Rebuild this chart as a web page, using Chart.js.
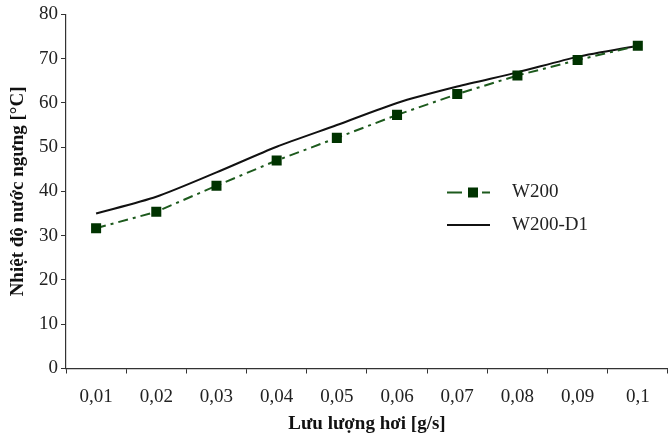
<!DOCTYPE html>
<html>
<head>
<meta charset="utf-8">
<script src="https://cdn.jsdelivr.net/npm/chart.js@4/dist/chart.umd.min.js"></script>
<style>
  html, body { margin: 0; padding: 0; background: #fff; overflow: hidden; }
  #wrap { width: 675px; height: 439px; }
</style>
</head>
<body>
<div id="wrap"><canvas id="tempChart"></canvas></div>
<script>
const flowLabels = ['0,01', '0,02', '0,03', '0,04', '0,05', '0,06', '0,07', '0,08', '0,09', '0,1'];
const w200 = [31.7, 35.4, 41.3, 47.0, 52.1, 57.3, 62.0, 66.2, 69.7, 72.9];
const w200d1 = [35.0, 38.8, 44.3, 50.1, 55.0, 60.0, 63.7, 66.9, 70.4, 72.9];
const yTicks = [0, 10, 20, 30, 40, 50, 60, 70, 80];

const serif = "'Liberation Serif', 'Times New Roman', serif";
const green = '#1d5a1d';
const marker = '#003300';

// legend drawn inside the plot, to the right of the curves
const insideLegend = {
    id: 'insideLegend',
    afterDraw(chart, args, opts) {
        const ctx = chart.ctx;
        ctx.save();
        ctx.font = '19px ' + serif;
        ctx.fillStyle = '#222';
        ctx.textBaseline = 'middle';

        // W200: dash-dot sample with square marker
        let y = opts.y1;
        ctx.strokeStyle = green;
        ctx.lineWidth = 2;
        ctx.beginPath();
        ctx.moveTo(opts.x, y); ctx.lineTo(opts.x + 15, y);
        ctx.moveTo(opts.x + 35, y); ctx.lineTo(opts.x + 43, y);
        ctx.stroke();
        ctx.fillStyle = marker;
        ctx.fillRect(opts.x + 21, y - 5, 10, 10);
        ctx.fillStyle = '#222';
        ctx.fillText(chart.data.datasets[0].label, opts.textX, y);

        // W200-D1: plain black line
        y = opts.y2;
        ctx.strokeStyle = '#111';
        ctx.beginPath();
        ctx.moveTo(opts.x, y); ctx.lineTo(opts.x + 43, y);
        ctx.stroke();
        ctx.fillText(chart.data.datasets[1].label, opts.textX, y);
        ctx.restore();
    }
};

new Chart(document.getElementById('tempChart'), {
    type: 'line',
    data: {
        labels: flowLabels,
        datasets: [{
            label: 'W200',
            data: w200,
            borderColor: green,
            borderWidth: 2,
            borderDash: [10, 5, 3, 5],
            pointStyle: 'rect',
            pointRadius: 7.1,
            pointBackgroundColor: marker,
            pointBorderColor: marker,
            pointBorderWidth: 0,
            tension: 0
        }, {
            label: 'W200-D1',
            data: w200d1,
            borderColor: '#111',
            borderWidth: 2,
            pointRadius: 0,
            tension: 0.25
        }]
    },
    options: {
        responsive: true,
        maintainAspectRatio: false,
        animation: false,
        layout: { padding: { top: 12, right: 2, left: 0, bottom: 0 } },
        plugins: {
            legend: { display: false },
            tooltip: { enabled: false },
            insideLegend: { x: 447, y1: 192.5, y2: 225, textX: 512 }
        },
        scales: {
            x: {
                offset: true,
                grid: {
                    offset: true,
                    drawOnChartArea: false,
                    drawTicks: true,
                    tickLength: 5,
                    color: '#333'
                },
                border: { display: true, color: '#333', width: 1.2 },
                ticks: {
                    font: { family: serif, size: 19 },
                    color: '#222',
                    padding: 12,
                    maxRotation: 0
                },
                title: {
                    display: true,
                    text: 'Lưu lượng hơi [g/s]',
                    font: { family: serif, size: 19, weight: 'bold' },
                    color: '#111',
                    padding: { top: 0, bottom: 3.5 }
                },
                afterFit(scale) { scale.height = 70.5; }
            },
            y: {
                min: 0,
                max: 80,
                afterBuildTicks(scale) { scale.ticks = yTicks.map(v => ({ value: v })); },
                grid: {
                    drawOnChartArea: false,
                    drawTicks: true,
                    tickLength: 5,
                    color: '#333'
                },
                border: { display: true, color: '#333', width: 1.2 },
                ticks: {
                    font: { family: serif, size: 19 },
                    color: '#222',
                    padding: 3
                },
                title: {
                    display: true,
                    text: 'Nhiệt độ nước ngưng [°C]',
                    font: { family: serif, size: 19, weight: 'bold' },
                    color: '#111',
                    padding: { top: 6.5, bottom: 0 }
                },
                afterFit(scale) { scale.width = 66; }
            }
        }
    },
    plugins: [insideLegend]
});
</script>
</body>
</html>
